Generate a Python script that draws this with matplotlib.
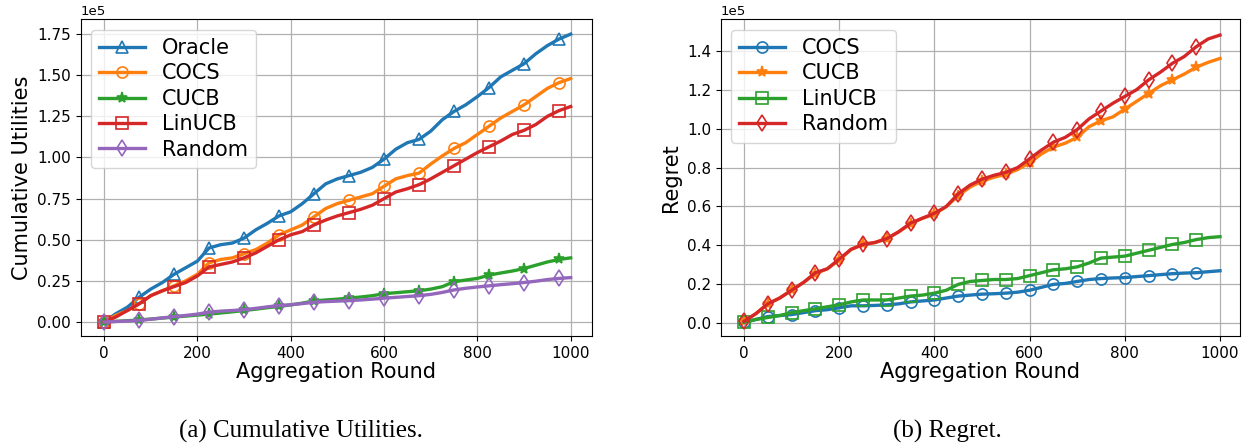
import matplotlib
matplotlib.use("Agg")
import matplotlib.pyplot as plt
import numpy as np

# rounds sampled every 25 (values in units of 1e5)
rounds = np.arange(0, 1001, 25)

util_oracle = [0, 0.05, 0.09, 0.15, 0.20, 0.24, 0.29, 0.33, 0.37, 0.45, 0.47, 0.48, 0.51, 0.56,
               0.60, 0.645, 0.67, 0.72, 0.78, 0.84, 0.87, 0.89, 0.91, 0.94, 0.99, 1.05, 1.09, 1.11,
               1.16, 1.23, 1.28, 1.32, 1.37, 1.425, 1.49, 1.53, 1.57, 1.63, 1.68, 1.72, 1.75]
util_cocs = [0, 0.04, 0.07, 0.11, 0.16, 0.19, 0.22, 0.25, 0.29, 0.36, 0.38, 0.39, 0.415, 0.44,
             0.48, 0.53, 0.56, 0.59, 0.64, 0.69, 0.72, 0.74, 0.76, 0.78, 0.825, 0.87, 0.89, 0.905,
             0.96, 1.01, 1.055, 1.09, 1.14, 1.19, 1.24, 1.28, 1.32, 1.37, 1.42, 1.455, 1.48]
util_cucb = [0, 0.004, 0.008, 0.012, 0.018, 0.024, 0.03, 0.036, 0.042, 0.048, 0.055, 0.062, 0.07,
             0.078, 0.087, 0.095, 0.104, 0.115, 0.128, 0.134, 0.139, 0.145, 0.152, 0.16, 0.172,
             0.178, 0.184, 0.19, 0.2, 0.215, 0.245, 0.255, 0.265, 0.285, 0.298, 0.31, 0.325, 0.345,
             0.365, 0.38, 0.39]
util_linucb = [0, 0.03, 0.07, 0.11, 0.16, 0.19, 0.215, 0.24, 0.28, 0.335, 0.35, 0.365, 0.39, 0.42,
               0.46, 0.50, 0.53, 0.55, 0.59, 0.62, 0.645, 0.665, 0.685, 0.71, 0.75, 0.79, 0.81,
               0.835, 0.87, 0.91, 0.95, 0.99, 1.03, 1.065, 1.10, 1.14, 1.165, 1.20, 1.25, 1.285, 1.31]
util_random = [0, 0.003, 0.006, 0.01, 0.017, 0.025, 0.033, 0.04, 0.048, 0.06, 0.066, 0.07, 0.075,
               0.083, 0.092, 0.1, 0.105, 0.112, 0.12, 0.124, 0.127, 0.13, 0.134, 0.139, 0.145,
               0.15, 0.155, 0.16, 0.168, 0.18, 0.195, 0.205, 0.213, 0.22, 0.227, 0.233, 0.24, 0.248,
               0.258, 0.265, 0.27]

reg_cocs = [0.005, 0.02, 0.035, 0.04, 0.045, 0.055, 0.065, 0.07, 0.08, 0.09, 0.09, 0.092, 0.095,
            0.1, 0.11, 0.115, 0.12, 0.13, 0.14, 0.145, 0.15, 0.152, 0.155, 0.16, 0.17, 0.185, 0.2,
            0.205, 0.215, 0.225, 0.23, 0.233, 0.235, 0.24, 0.245, 0.25, 0.255, 0.258, 0.26, 0.265, 0.27]
reg_cucb = [0.01, 0.05, 0.10, 0.13, 0.17, 0.21, 0.255, 0.28, 0.325, 0.38, 0.405, 0.415, 0.435,
            0.47, 0.51, 0.54, 0.56, 0.60, 0.655, 0.70, 0.73, 0.75, 0.765, 0.79, 0.825, 0.87, 0.905,
            0.925, 0.955, 1.01, 1.04, 1.06, 1.10, 1.14, 1.18, 1.22, 1.25, 1.28, 1.315, 1.34, 1.36]
reg_linucb = [0.005, 0.02, 0.03, 0.04, 0.055, 0.065, 0.075, 0.085, 0.095, 0.11, 0.12, 0.12, 0.12,
              0.13, 0.14, 0.145, 0.155, 0.17, 0.20, 0.215, 0.22, 0.225, 0.225, 0.23, 0.245, 0.26,
              0.275, 0.28, 0.29, 0.31, 0.335, 0.34, 0.345, 0.36, 0.375, 0.39, 0.405, 0.415, 0.43,
              0.44, 0.445]
reg_random = [0.01, 0.05, 0.10, 0.13, 0.17, 0.21, 0.26, 0.28, 0.33, 0.38, 0.405, 0.415, 0.435,
              0.47, 0.515, 0.54, 0.565, 0.60, 0.665, 0.71, 0.74, 0.76, 0.775, 0.80, 0.845, 0.89,
              0.93, 0.955, 0.995, 1.05, 1.09, 1.13, 1.165, 1.20, 1.25, 1.29, 1.335, 1.37, 1.42,
              1.46, 1.48]

SCALE = 1e5
LW = 2.4
MS = 8

fig = plt.figure(figsize=(12.45, 4.44), dpi=100)
ax1 = fig.add_axes([80.7 / 1245, 1 - 336 / 444, (591.7 - 80.7) / 1245, (336 - 19.3) / 444])
ax2 = fig.add_axes([720.7 / 1245, 1 - 336 / 444, (1240 - 720.7) / 1245, (336 - 19.3) / 444])


def draw(ax, series, every):
    for label, vals, color, marker in series:
        filled = marker == "*"
        ax.plot(rounds, np.array(vals) * SCALE, color=color, lw=LW, marker=marker, ms=MS,
                markevery=every, mfc=color if filled else "none", mec=color, mew=1.2,
                label=label)
    ax.grid(True, color="#b0b0b0", lw=0.9)
    ax.ticklabel_format(axis="y", style="sci", scilimits=(0, 0))
    ax.tick_params(labelsize=11)
    ax.yaxis.get_offset_text().set_fontsize(9.5)
    ax.set_xlabel("Aggregation Round", fontsize=15, labelpad=1)
    ax.legend(loc="upper left", fontsize=15, handlelength=2.2, labelspacing=0.26)


draw(ax1, [("Oracle", util_oracle, "tab:blue", "^"),
           ("COCS", util_cocs, "tab:orange", "o"),
           ("CUCB", util_cucb, "tab:green", "*"),
           ("LinUCB", util_linucb, "tab:red", "s"),
           ("Random", util_random, "tab:purple", "d")], slice(0, 40, 3))
ax1.set_xlim(-50, 1045)
ax1.set_ylim(-0.085 * SCALE, 1.84 * SCALE)
ax1.set_ylabel("Cumulative Utilities", fontsize=15)

draw(ax2, [("COCS", reg_cocs, "tab:blue", "o"),
           ("CUCB", reg_cucb, "tab:orange", "*"),
           ("LinUCB", reg_linucb, "tab:green", "s"),
           ("Random", reg_random, "tab:red", "d")], slice(0, 40, 2))
ax2.set_xlim(-49, 1042)
ax2.set_ylim(-0.065 * SCALE, 1.561 * SCALE)
ax2.set_ylabel("Regret", fontsize=15)

fig.text(301 / 1245, 1 - 431 / 444, "(a) Cumulative Utilities.", ha="center", va="center",
         family="Liberation Serif", fontsize=18)
fig.text(947 / 1245, 1 - 431 / 444, "(b) Regret.", ha="center", va="center",
         family="Liberation Serif", fontsize=18)

fig.savefig("out.png", dpi=100)
